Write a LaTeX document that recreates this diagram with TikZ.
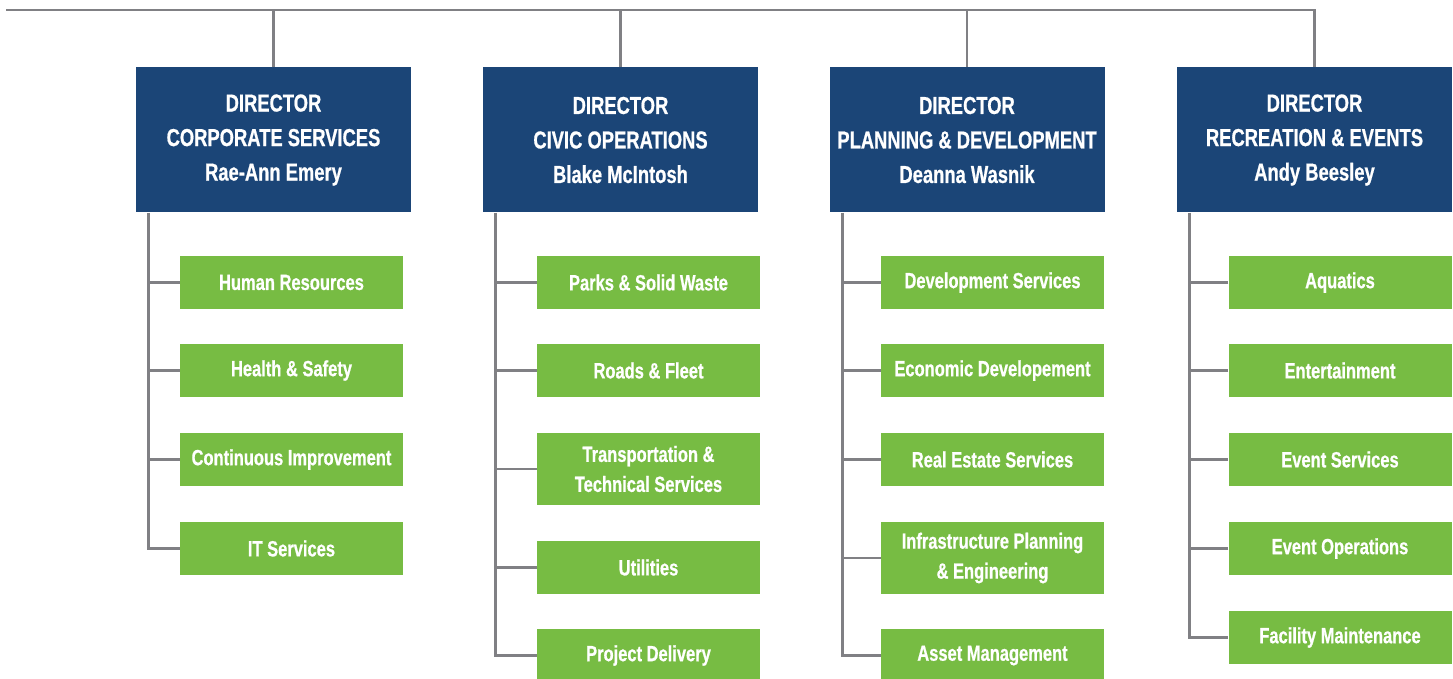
\documentclass[tikz,border=0pt]{standalone}
\usepackage{fontspec}
\newfontfamily\orgfont{Liberation Sans}[FakeStretch=0.75,BoldFeatures={FakeBold=0.7}]
\usepackage{tikz}

\definecolor{dirblue}{RGB}{27,69,119}
\definecolor{unitgreen}{RGB}{119,188,67}
\definecolor{linkgray}{RGB}{128,128,132}

\begin{document}
\begin{tikzpicture}[x=1pt,y=-1pt,
    director/.style={fill=dirblue,text=white,minimum width=275,minimum height=145,
        inner sep=0,align=center,font={\orgfont\bfseries\fontsize{24.5}{34.5}\selectfont}},
    unit/.style={fill=unitgreen,text=white,minimum width=223,minimum height=53,
        inner sep=0,align=center,font={\orgfont\bfseries\fontsize{22}{30}\selectfont}},
    twoline/.style={unit,minimum height=72},
    link/.style={draw=linkgray,line width=2.8pt}]
    \useasboundingbox (0,0) rectangle (1453,679);

    % Directors
    \node[director] (d1) at (273.5,140) {DIRECTOR\\CORPORATE SERVICES\\Rae-Ann Emery};
    \node[director] (d2) at (620.5,140) {DIRECTOR\\CIVIC OPERATIONS\\Blake McIntosh};
    \node[director] (d3) at (967,140) {DIRECTOR\\PLANNING \& DEVELOPMENT\\Deanna Wasnik};
    \node[director] (d4) at (1314.5,140) {DIRECTOR\\RECREATION \& EVENTS\\Andy Beesley};

    % Top bus
    \coordinate (busstart) at (6,10);
    \draw[link] (busstart) -| (d4.north);
    \draw[link] (d1.north) -- (d1.north |- busstart);
    \draw[link] (d2.north) -- (d2.north |- busstart);
    \draw[link] (d3.north) -- (d3.north |- busstart);

    % Corporate services
    \node[unit] (c11) at (291.5,282.5) {Human Resources};
    \node[unit] (c12) at (291.5,370.5) {Health \& Safety};
    \node[unit] (c13) at (291.5,459.5) {Continuous Improvement};
    \node[unit] (c14) at (291.5,548.5) {IT Services};
    \coordinate (s1) at ([xshift=13]d1.south west);
    \draw[link] (s1) |- (c14.west);
    \draw[link] (c11.west) -- (c11.west -| s1);
    \draw[link] (c12.west) -- (c12.west -| s1);
    \draw[link] (c13.west) -- (c13.west -| s1);

    % Civic operations
    \node[unit] (c21) at (648.5,282.5) {Parks \& Solid Waste};
    \node[unit] (c22) at (648.5,370.5) {Roads \& Fleet};
    \node[twoline] (c23) at (648.5,469) {Transportation \&\\Technical Services};
    \node[unit] (c24) at (648.5,567.5) {Utilities};
    \node[unit] (c25) at (648.5,655.5) {Project Delivery};
    \coordinate (s2) at ([xshift=13]d2.south west);
    \draw[link] (s2) |- (c25.west);
    \draw[link] (c21.west) -- (c21.west -| s2);
    \draw[link] (c22.west) -- (c22.west -| s2);
    \draw[link] (c23.west) -- (c23.west -| s2);
    \draw[link] (c24.west) -- (c24.west -| s2);

    % Planning & development
    \node[unit] (c31) at (992.5,282.5) {Development Services};
    \node[unit] (c32) at (992.5,370.5) {Economic Developement};
    \node[unit] (c33) at (992.5,459.5) {Real Estate Services};
    \node[twoline] (c34) at (992.5,558) {Infrastructure Planning\\\& Engineering};
    \node[unit] (c35) at (992.5,655.5) {Asset Management};
    \coordinate (s3) at ([xshift=13]d3.south west);
    \draw[link] (s3) |- (c35.west);
    \draw[link] (c31.west) -- (c31.west -| s3);
    \draw[link] (c32.west) -- (c32.west -| s3);
    \draw[link] (c33.west) -- (c33.west -| s3);
    \draw[link] (c34.west) -- (c34.west -| s3);

    % Recreation & events
    \node[unit] (c41) at (1340,282.5) {Aquatics};
    \node[unit] (c42) at (1340,370.5) {Entertainment};
    \node[unit] (c43) at (1340,459.5) {Event Services};
    \node[unit] (c44) at (1340,548.5) {Event Operations};
    \node[unit] (c45) at (1340,637.5) {Facility Maintenance};
    \coordinate (s4) at ([xshift=13]d4.south west);
    \draw[link] (s4) |- (c45.west);
    \draw[link] (c41.west) -- (c41.west -| s4);
    \draw[link] (c42.west) -- (c42.west -| s4);
    \draw[link] (c43.west) -- (c43.west -| s4);
    \draw[link] (c44.west) -- (c44.west -| s4);
\end{tikzpicture}
\end{document}
